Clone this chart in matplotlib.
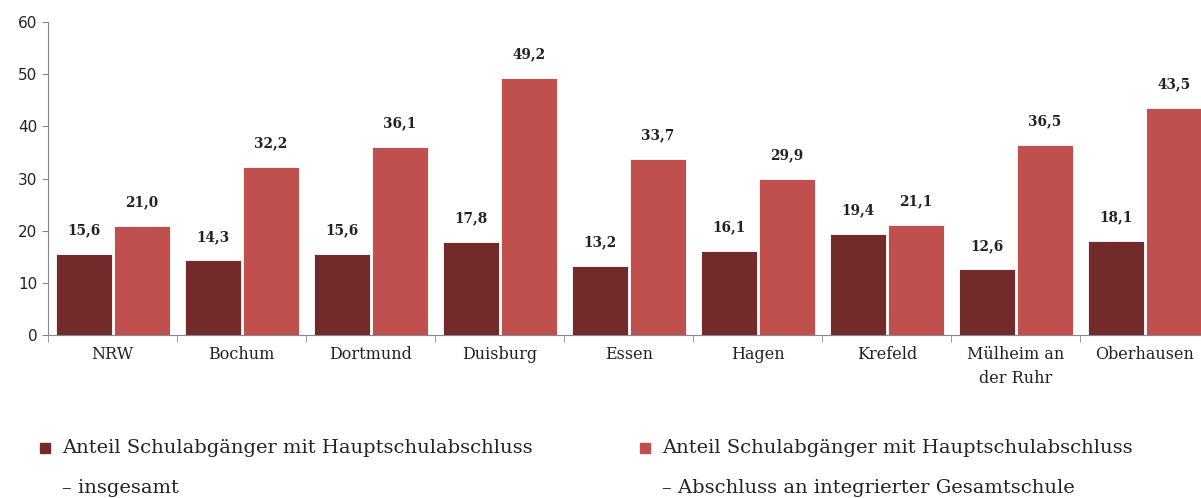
import matplotlib.pyplot as plt
import numpy as np
from matplotlib.patches import Rectangle

# Cities / regions
categories = ['NRW', 'Bochum', 'Dortmund', 'Duisburg', 'Essen', 'Hagen',
              'Krefeld', 'Mülheim an\nder Ruhr', 'Oberhausen']
insgesamt = [15.6, 14.3, 15.6, 17.8, 13.2, 16.1, 19.4, 12.6, 18.1]
gesamtschule = [21.0, 32.2, 36.1, 49.2, 33.7, 29.9, 21.1, 36.5, 43.5]
legend_first = ['Anteil Schulabgänger mit Hauptschulabschluss',
                'Anteil Schulabgänger mit Hauptschulabschluss']
legend_second = ['– insgesamt', '– Abschluss an integrierter Gesamtschule']

dark = '#722A2A'
light = '#C0504D'
serif = 'DejaVu Serif'
W, H = 1201, 498

fig = plt.figure(figsize=(W / 100, H / 100), dpi=100)
ax = fig.add_axes([0.04, 0.327, 0.967, 0.629])

x = np.arange(len(categories))
w = 0.434
b1 = ax.bar(x - w / 2 - 0.008, insgesamt, w, color=dark, edgecolor='white', linewidth=0.6)
b2 = ax.bar(x + w / 2 + 0.008, gesamtschule, w, color=light, edgecolor='white', linewidth=0.6)

for bars, vals in ((b1, insgesamt), (b2, gesamtschule)):
    for bar, v in zip(bars, vals):
        ax.annotate(f'{v:.1f}'.replace('.', ','),
                    (bar.get_x() + bar.get_width() / 2, v),
                    xytext=(0, 17), textcoords='offset points',
                    ha='center', va='center', fontsize=9.8, fontweight='bold',
                    family=serif, color='#222222')

ax.set_xlim(-0.5, len(categories) - 0.5)
ax.set_ylim(0, 60)
ax.set_yticks(range(0, 61, 10))
ax.tick_params(axis='y', labelsize=11, length=4, color='#888888', labelcolor='#222222')
ax.set_xticks(x)
ax.set_xticklabels(categories, family=serif, fontsize=11.5, color='#222222', linespacing=1.5)
ax.set_xticks(np.arange(-0.5, len(categories), 1), minor=True)
ax.tick_params(axis='x', which='major', length=0, pad=8)
ax.tick_params(axis='x', which='minor', length=5, color='#888888')

for s in ('top', 'right'):
    ax.spines[s].set_visible(False)
for s in ('left', 'bottom'):
    ax.spines[s].set_color('#888888')

# legend drawn by hand: square marker beside the first line
for col, color, first, second in zip((40, 640), (dark, light), legend_first, legend_second):
    fig.patches.append(Rectangle((col / W, 1 - 453 / H), 10 / W, 10 / H,
                                 transform=fig.transFigure, color=color))
    fig.text((col + 22) / W, 1 - 448 / H, first, family=serif, fontsize=14,
             va='center', ha='left', color='#222222')
    fig.text((col + 22) / W, 1 - 488 / H, second, family=serif, fontsize=14,
             va='center', ha='left', color='#222222')

fig.savefig('out.png', dpi=100)
